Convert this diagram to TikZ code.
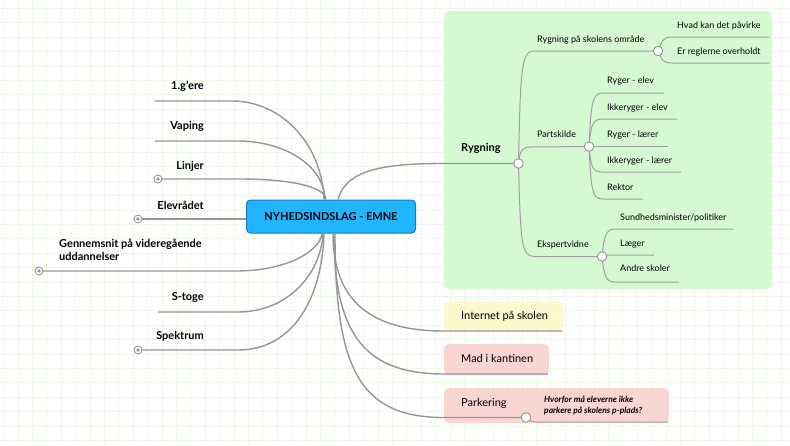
\documentclass[tikz,border=0pt]{standalone}
\usepackage{fontspec}
\setmainfont{Lato}
\definecolor{gridc}{RGB}{237,248,234}
\definecolor{connc}{RGB}{150,150,150}
\definecolor{subc}{RGB}{160,160,160}
\definecolor{rootfill}{RGB}{32,182,255}
\definecolor{rootdraw}{RGB}{24,118,205}
\definecolor{greenfill}{RGB}{210,249,208}
\definecolor{yellowfill}{RGB}{254,248,202}
\definecolor{pinkfill}{RGB}{250,210,207}
\begin{document}
\begin{tikzpicture}[x=1pt,y=-1pt,
  gridline/.style={draw=gridc, line width=0.7pt},
  conn/.style={draw=connc, line width=1.4pt},
  subline/.style={draw=subc, line width=1pt},
  rootbox/.style={draw=rootdraw, fill=rootfill, line width=1pt, rounded corners=4pt,
    minimum width=169pt, minimum height=33pt, inner sep=0pt,
    font=\fontsize{11}{13}\selectfont\bfseries},
  regionbox/.style={rounded corners=5pt, inner sep=0pt, fill opacity=0.9},
  ltopic/.style={anchor=mid east, inner sep=0pt, font=\fontsize{11}{13}\selectfont\bfseries},
  rtopic/.style={anchor=mid west, inner sep=0pt, font=\fontsize{11}{13}\selectfont},
  subtxt/.style={anchor=mid west, inner sep=0pt, font=\fontsize{9}{11}\selectfont},
  notetxt/.style={anchor=north west, inner sep=0pt, align=left,
    font=\fontsize{8.5}{11}\selectfont\bfseries\itshape},
  knob/.style={circle, draw=connc, fill=white, line width=0.9pt, minimum size=9.5pt, inner sep=0pt},
  fold/.style={circle, draw=connc, fill=white, line width=0.9pt, minimum size=8pt, inner sep=0pt},
]
\useasboundingbox (0,0) rectangle (790,445);
\fill[white] (0,0) rectangle (790,445);
% grid
\foreach \i in {0,...,54} { \draw[gridline] ({3.5+14.4*\i},0) -- ({3.5+14.4*\i},445); }
\foreach \j in {0,...,30} { \draw[gridline] (0,{8.3+14.4*\j}) -- (790,{8.3+14.4*\j}); }

% region boxes
\node[regionbox, fill=greenfill, minimum width=328pt, minimum height=278pt] (gbox) at (608,150) {};
\node[regionbox, fill=yellowfill, minimum width=119pt, minimum height=31pt] (ibox) at (503.5,316.5) {};
\node[regionbox, fill=pinkfill, minimum width=105pt, minimum height=31pt] (mbox) at (496.5,359.5) {};
\node[regionbox, fill=pinkfill, minimum width=225pt, minimum height=35pt] (pbox) at (556.5,405.5) {};

% root
\node[rootbox] (root) at (331,216.5) {NYHEDSINDSLAG - EMNE};

% coordinates
\coordinate (g1) at (155,101);
\coordinate (g2) at (155,141);
\coordinate (lk) at (158,179);
\coordinate (ek) at (138,219);
\coordinate (gk) at (39,271);
\coordinate (sg) at (158,312);
\coordinate (sk) at (138,350);
\coordinate (rk) at (518.5,163.5);
\coordinate (ok) at (658,51);
\coordinate (pk) at (589,146.5);
\coordinate (xk) at (602,256.5);
\coordinate (qk) at (526,417.5);

% left connectors
\draw[conn] (g1) -- (232,101) .. controls +(50,0) and +(-2,-55) .. ([xshift=-7pt]root.north);
\draw[conn] (g2) -- (238,141) .. controls +(45,0) and +(-1,-35) .. ([xshift=-6pt]root.north);
\draw[conn] (lk) -- (240,179) .. controls +(45,0) and +(-1,-14) .. ([xshift=-5pt]root.north);
\draw[conn] (ek) -- ([yshift=-2.5pt]root.west);
\draw[conn] (gk) -- (236,271) .. controls +(50,0) and +(-2,18) .. ([xshift=-9pt]root.south);
\draw[conn] (sg) -- (238,312) .. controls +(50,0) and +(-2,40) .. ([xshift=-8pt]root.south);
\draw[conn] (sk) -- (238,350) .. controls +(55,0) and +(-2,65) .. ([xshift=-7pt]root.south);

% right connectors
\draw[conn] ([xshift=7pt]root.north) .. controls +(8,-30) and +(-60,0) .. (444,163.5) -- (rk);
\draw[conn] ([xshift=2pt]root.south) .. controls +(0,70) and +(-70,0) .. (444,331) -- (562,331);
\draw[conn] ([xshift=3pt]root.south) .. controls +(0,100) and +(-80,0) .. (444,374) -- (548,374);
\draw[conn] ([xshift=4pt]root.south) .. controls +(0,135) and +(-85,0) .. (444,417.5) -- (qk);
\draw[subline] (qk) .. controls (531,422) .. (540,422) -- (668,422);

% Rygning sub-branches
\draw[subline] (rk) .. controls (520.5,70) and (521,51) .. (534,51) -- (ok);
\draw[subline] (rk) .. controls (520,151) and (521,147) .. (532,147) -- (pk);
\draw[subline] (rk) .. controls (520.5,240) and (521,256.5) .. (534,256.5) -- (xk);

\draw[subline] (ok) .. controls (662,40) and (664,37) .. (672,37) -- (769,37);
\draw[subline] (ok) .. controls (662,61) and (664,63) .. (672,63) -- (769,63);

\draw[subline] (pk) .. controls (591,105) and (592,93) .. (602,93) -- (664,93);
\draw[subline] (pk) .. controls (591,126) and (592,119) .. (602,119) -- (677,119);
\draw[subline] (pk) -- (668,146.5);
\draw[subline] (pk) .. controls (591,166) and (592,172) .. (602,172) -- (681,172);
\draw[subline] (pk) .. controls (591,188) and (592,199) .. (602,199) -- (643,199);

\draw[subline] (xk) .. controls (604,236) and (606,229) .. (615,229) -- (733,229);
\draw[subline] (xk) .. controls (606,255) .. (615,255) -- (654,255);
\draw[subline] (xk) .. controls (604,276) and (606,282) .. (615,282) -- (679,282);

% knobs
\foreach \c in {lk,ek,gk,sk} {
  \node[fold] at (\c) {};
  \fill[connc] (\c) circle (1.9pt);
}
\foreach \c in {rk,ok,pk,xk,qk} { \node[knob] at (\c) {}; }

% left texts
\node[ltopic] (t1) at (204,87) {1.g'ere};
\node[ltopic] (t2) at (204,127) {Vaping};
\node[ltopic] (t3) at (204,167) {Linjer};
\node[ltopic] (t4) at (204,207) {Elevrådet};
\node[anchor=north west, inner sep=0pt, align=left, font=\fontsize{11}{13.5}\selectfont\bfseries] (t5) at (59,238.5) {Gennemsnit på videregående\\uddannelser};
\node[ltopic] (t6) at (204,298) {S-toge};
\node[ltopic] (t7) at (204,337) {Spektrum};

% right texts
\node[rtopic, font=\fontsize{11}{13}\selectfont\bfseries] (r1) at (461,149) {Rygning};
\node[rtopic] (r2) at (461,317) {Internet på skolen};
\node[rtopic] (r3) at (461,360) {Mad i kantinen};
\node[rtopic] (r4) at (461,404) {Parkering};
\node[notetxt] (note) at (544,395.5) {Hvorfor må eleverne ikke\\parkere på skolens p-plads?};

\node[subtxt] at (537,40) {Rygning på skolens område};
\node[subtxt] at (537,135) {Partskilde};
\node[subtxt] at (537,245) {Ekspertvidne};
\node[subtxt] at (677,26) {Hvad kan det påvirke};
\node[subtxt] at (677,52) {Er reglerne overholdt};
\node[subtxt] at (607,81) {Ryger - elev};
\node[subtxt] at (607,108) {Ikkeryger - elev};
\node[subtxt] at (607,135) {Ryger - lærer};
\node[subtxt] at (607,161) {Ikkeryger - lærer};
\node[subtxt] at (607,188) {Rektor};
\node[subtxt] at (620,218) {Sundhedsminister/politiker};
\node[subtxt] at (620,244) {Læger};
\node[subtxt] at (620,269) {Andre skoler};
\end{tikzpicture}
\end{document}
